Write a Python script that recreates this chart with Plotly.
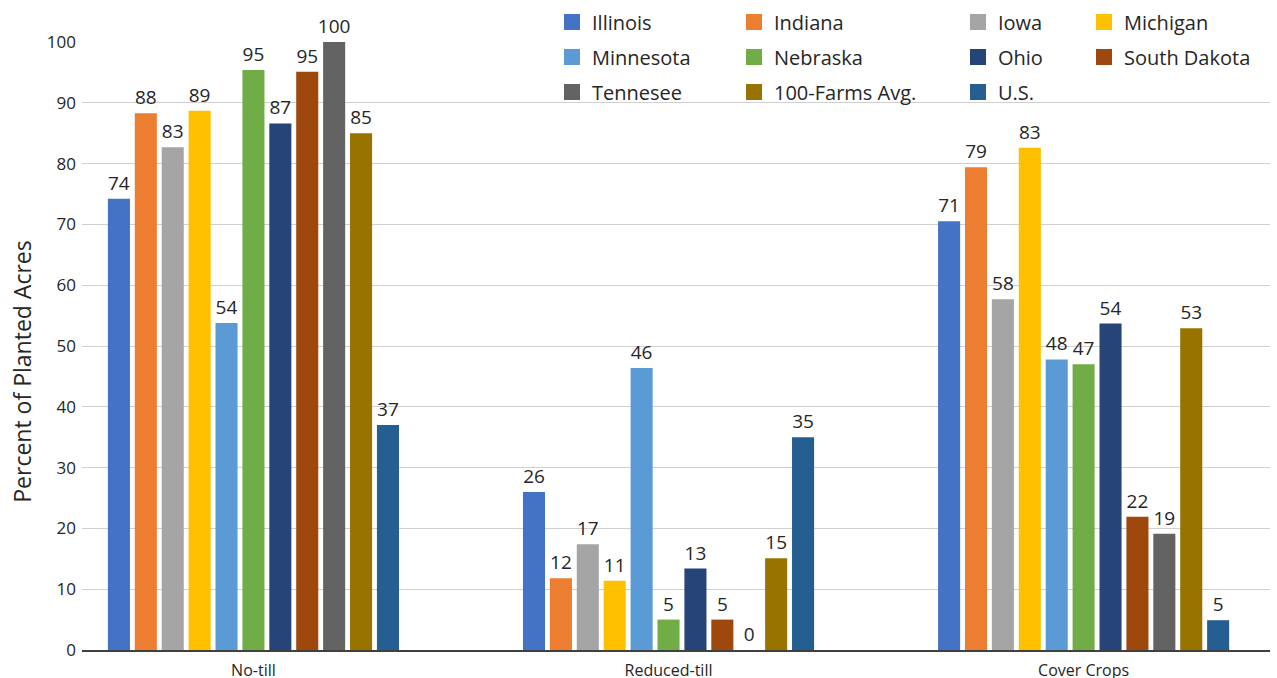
import plotly.graph_objects as go

# Tillage / cover-crop practice categories
categories = ["No-till", "Reduced-till", "Cover Crops"]
y_ticks = list(range(0, 101, 10))

# Percent of planted acres per state / group
illinois = [74.2, 26.0, 70.5]
indiana = [88.3, 11.8, 79.4]
iowa = [82.7, 17.4, 57.7]
michigan = [88.7, 11.4, 82.6]
minnesota = [53.8, 46.4, 47.8]
nebraska = [95.4, 5.0, 47.0]
ohio = [86.6, 13.4, 53.7]
south_dakota = [95.1, 5.0, 21.9]
tennesee = [100.0, 0.0, 19.1]
farms_avg = [85.0, 15.1, 52.9]
us = [37.0, 35.0, 4.9]

series = [
    ("Illinois", illinois, "#4472C4"),
    ("Indiana", indiana, "#ED7D31"),
    ("Iowa", iowa, "#A5A5A5"),
    ("Michigan", michigan, "#FFC000"),
    ("Minnesota", minnesota, "#5B9BD5"),
    ("Nebraska", nebraska, "#70AD47"),
    ("Ohio", ohio, "#264478"),
    ("South Dakota", south_dakota, "#9E480E"),
    ("Tennesee", tennesee, "#636363"),
    ("100-Farms Avg.", farms_avg, "#997300"),
    ("U.S.", us, "#255E91"),
]

FONT = "Open Sans, Noto Sans, DejaVu Sans, sans-serif"
TEXT = "#262626"
W, H = 1277, 678
M_L, M_R, M_T, M_B = 82, 7, 42, 28
PLOT_W, PLOT_H = W - M_L - M_R, H - M_T - M_B

# legend grid: 4 columns x 3 rows, item text start (px) and row centre (px)
LEG_COL_X = [592, 774, 998, 1124]
LEG_ROW_Y = [22, 57, 92]

fig = go.Figure()
for name, vals, color in series:
    fig.add_trace(go.Bar(
        name=name,
        x=categories,
        y=vals,
        marker=dict(color=color, line=dict(width=0)),
        texttemplate="%{y:.0f}",
        textposition="outside",
        constraintext="none",
        cliponaxis=False,
        textfont=dict(family=FONT, size=19, color=TEXT),
        showlegend=False,
    ))

# legend entries (square swatches), one legend box per grid cell
legends = {}
for i, (name, vals, color) in enumerate(series):
    lid = "legend" if i == 0 else f"legend{i + 1}"
    col, row = i % 4, i // 4
    fig.add_trace(go.Scatter(
        name=name,
        x=[None],
        y=[None],
        mode="markers",
        marker=dict(symbol="square", size=18, color=color),
        showlegend=True,
        legend=lid,
        hoverinfo="skip",
    ))
    legends[lid] = dict(
        x=(LEG_COL_X[col] - 40 - M_L) / PLOT_W,
        y=(H - M_B - LEG_ROW_Y[row]) / PLOT_H,
        xref="paper",
        yref="paper",
        xanchor="left",
        yanchor="middle",
        bgcolor="rgba(0,0,0,0)",
        font=dict(family=FONT, size=20, color=TEXT),
    )
fig.update_layout(**legends)

fig.update_layout(
    width=W,
    height=H,
    barmode="group",
    bargap=0.287,
    bargroupgap=0.18,
    plot_bgcolor="white",
    paper_bgcolor="white",
    margin=dict(l=M_L, r=M_R, t=M_T, b=M_B, autoexpand=False),
    font=dict(family=FONT, color="#404040"),
    xaxis=dict(
        range=[-0.413, 2.449],
        showgrid=False,
        showline=True,
        linecolor="#404040",
        linewidth=2,
        ticks="",
        ticklabelstandoff=5,
        tickfont=dict(family=FONT, size=16, color=TEXT),
    ),
    yaxis=dict(
        range=[0, 100],
        tickvals=y_ticks,
        showgrid=True,
        gridcolor="#D0D0D0",
        gridwidth=1,
        zeroline=False,
        showline=False,
        ticks="",
        ticklabelstandoff=5,
        tickfont=dict(family=FONT, size=17, color=TEXT),
    ),
    annotations=[dict(
        text="Percent of Planted Acres",
        xref="paper", yref="paper",
        x=-0.05, y=0.457,
        xanchor="center", yanchor="middle",
        textangle=-90,
        showarrow=False,
        font=dict(family=FONT, size=23, color=TEXT),
    )],
)

fig.write_html("out.html")
